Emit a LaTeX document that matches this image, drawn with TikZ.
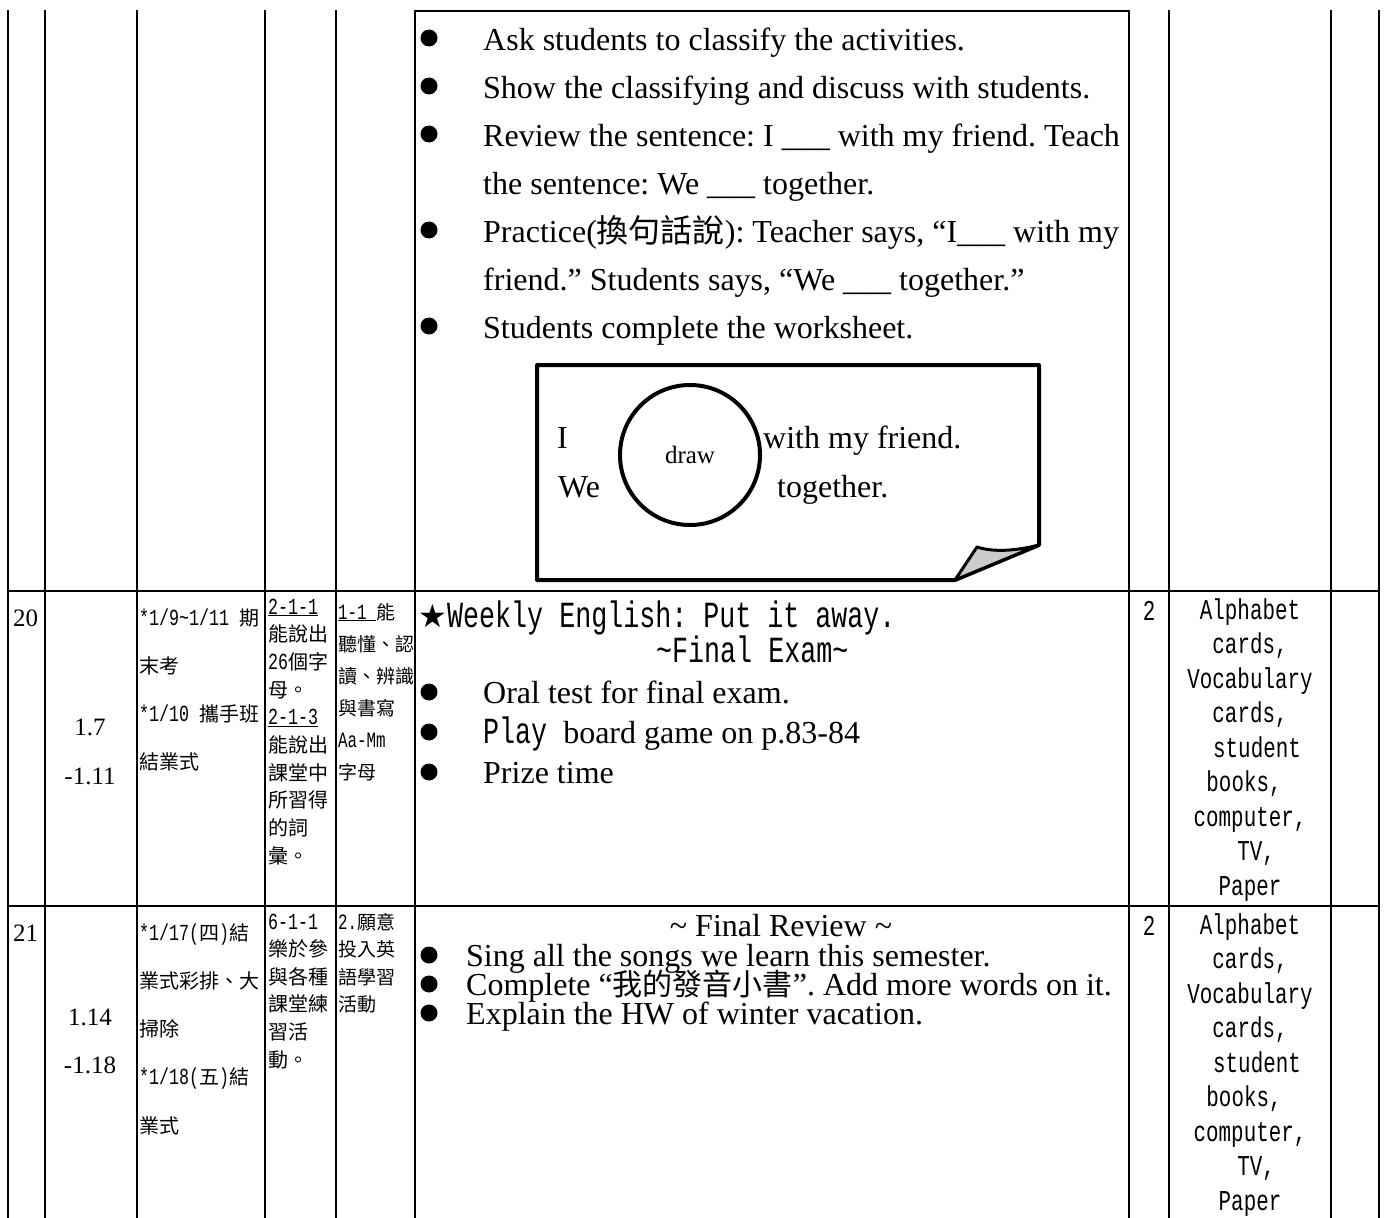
\documentclass[tikz,border=0pt]{standalone}
\usepackage{fontspec}
\setmainfont{Liberation Serif}
\newfontfamily\cjk{Noto Sans CJK TC}
\newfontfamily\halfmono[Scale=1.15,FakeStretch=0.725]{Liberation Mono}
\newfontfamily\symfont{DejaVu Sans}
\newcommand{\fsz}[1]{\fontsize{#1}{#1}\selectfont}
\newcommand{\zh}[1]{{\cjk #1}}
\newcommand{\hm}[1]{{\halfmono #1}}

\begin{document}
\frenchspacing
\begin{tikzpicture}
  [x=1pt,y=-1pt,
   tabline/.style={line width=2pt},
   txt/.style={anchor=base west,inner sep=0pt},
   ctr/.style={anchor=base,inner sep=0pt},
   bulletdot/.style={circle,fill=black,minimum size=17pt,inner sep=0pt}]
  \useasboundingbox (0,0) rectangle (1387,1218);

  % table
  \foreach \x in {8,45,137,265,336,1169,1331,1379}
    \draw[tabline] (\x,10) -- (\x,1218);
  \draw[tabline] (415,1218) -- (415,11) -- (1129,11) -- (1129,1218);
  \foreach \y in {591,906}
    \draw[tabline] (8,\y) -- (1379,\y);

  % previous week, activities
  \foreach \t [count=\i from 0] in {Ask students to classify the activities.,
      Show the classifying and discuss with students.,
      {Review the sentence: I \_\_\_ with my friend. Teach},
      {the sentence: We \_\_\_ together.},
      {Practice(\zh{換句話說}): Teacher says, “I\_\_\_ with my},
      {friend.” Students says, “We \_\_\_ together.”},
      Students complete the worksheet.}
    \node[txt,font=\fsz{32}] (top\i) at (483,50+48*\i) {\t};
  \foreach \y [count=\i] in {38,86,134,230,326}
    \node[bulletdot] (tb\i) at (429,\y) {};

  % worksheet
  \draw[line width=4pt,line join=round] (537,365) -- (1039,365) -- (1039,545)
    -- (955,580) -- (537,580) -- cycle;
  \filldraw[fill=black!20,line width=3pt,line join=round] (955,580) -- (977,547)
    .. controls (995,553) and (1020,550) .. (1039,545) -- cycle;
  \node[circle,draw,line width=4pt,minimum size=140pt,inner sep=0pt,font=\fsz{25}]
    (drawc) at (690,455) {draw};
  \node[txt,font=\fsz{32}] (wsI) at (557,448) {I};
  \node[txt,font=\fsz{32}] (wsWe) at (558,497) {We};
  \node[txt,font=\fsz{32}] (wsA) at (763,448) {with my friend.};
  \node[txt,font=\fsz{32}] (wsB) at (777,497) {together.};

  % week 20
  \node[txt,font=\fsz{25}] (wk20) at (13,626) {20};
  \node[ctr,font=\fsz{25}] (d20a) at (90,735) {1.7};
  \node[ctr,font=\fsz{25}] (d20b) at (90,784) {-1.11};
  \foreach \t [count=\i from 0] in {{\hm{*1/9\textasciitilde1/11 }\zh{期}},
      \zh{末考}, {\hm{*1/10 }\zh{攜手班}}, \zh{結業式}}
    \node[txt,font=\fsz{20}] (ev20-\i) at (139,625+48*\i) {\t};
  \foreach \t [count=\i from 0] in {\underline{\hm{2-1-1}}, \zh{能說出},
      {\hm{26}\zh{個字}}, \zh{母。}, \underline{\hm{2-1-3}}, \zh{能說出},
      \zh{課堂中}, \zh{所習得}, \zh{的詞}, \zh{彙。}}
    \node[txt,font=\fsz{20}] (ind20-\i) at (268,614+27.7*\i) {\t};
  \foreach \t [count=\i from 0] in {{\underline{\hm{1-1 }}\zh{能}}, \zh{聽懂、認},
      \zh{讀、辨識}, \zh{與書寫}, \hm{Aa-Mm}, \zh{字母}}
    \node[txt,font=\fsz{19}] (goal20-\i) at (338,619+32*\i) {\t};
  \node[txt,font=\symfont\fsz{32}] (star20) at (418,627) {★};
  \node[txt,font=\halfmono\fsz{32}] (eng20) at (447,627) {Weekly English: Put it away.};
  \node[txt,font=\halfmono\fsz{32}] (exam20) at (656,662) {\textasciitilde Final Exam\textasciitilde};
  \foreach \t [count=\i from 0] in {Oral test for final exam.,
      {\hm{Play }board game on p.83-84}, Prize time}
  {
    \node[bulletdot] (b20-\i) at (429,692+40*\i) {};
    \node[txt,font=\fsz{32}] (act20-\i) at (483,703+40*\i) {\t};
  }
  \node[ctr,font=\halfmono\fsz{25}] (hr20) at (1149,620) {2};
  \foreach \t/\dx [count=\i from 0] in {Alphabet/0, {cards,}/0, Vocabulary/0,
      {cards,}/0, student/7, {books,}/-6, {computer,}/0, {TV,}/6, Paper/0}
    \node[ctr,font=\halfmono\fsz{25}] (res20-\i) at (1250+\dx,619+34.5*\i) {\t};

  % week 21
  \node[txt,font=\fsz{25}] (wk21) at (13,941) {21};
  \node[ctr,font=\fsz{25}] (d21a) at (90,1025) {1.14};
  \node[ctr,font=\fsz{25}] (d21b) at (90,1073) {-1.18};
  \foreach \t [count=\i from 0] in {{\hm{*1/17(}\zh{四}\hm{)}\zh{結}},
      \zh{業式彩排、大}, \zh{掃除}, {\hm{*1/18(}\zh{五}\hm{)}\zh{結}}, \zh{業式}}
    \node[txt,font=\fsz{20}] (ev21-\i) at (139,940+48.3*\i) {\t};
  \foreach \t [count=\i from 0] in {\hm{6-1-1}, \zh{樂於參}, \zh{與各種},
      \zh{課堂練}, \zh{習活}, \zh{動。}}
    \node[txt,font=\fsz{20}] (ind21-\i) at (268,929+27.6*\i) {\t};
  \foreach \t [count=\i from 0] in {{\hm{2.}\zh{願意}}, \zh{投入英}, \zh{語學習}, \zh{活動}}
    \node[txt,font=\fsz{19}] (goal21-\i) at (338,929+27.6*\i) {\t};
  \node[ctr,font=\fsz{32}] (rev21) at (781,936) {\textasciitilde{} Final Review \textasciitilde};
  \foreach \t [count=\i from 0] in {Sing all the songs we learn this semester.,
      {Complete “{\cjk\fsz{30}我的發音小書}”. Add more words on it.},
      Explain the HW of winter vacation.}
  {
    \node[bulletdot] (b21-\i) at (429,955+29*\i) {};
    \node[txt,font=\fsz{32}] (act21-\i) at (466,966+29*\i) {\t};
  }
  \node[ctr,font=\halfmono\fsz{25}] (hr21) at (1149,935) {2};
  \foreach \t/\dx [count=\i from 0] in {Alphabet/0, {cards,}/0, Vocabulary/0,
      {cards,}/0, student/7, {books,}/-6, {computer,}/0, {TV,}/6, Paper/0}
    \node[ctr,font=\halfmono\fsz{25}] (res21-\i) at (1250+\dx,934+34.5*\i) {\t};
\end{tikzpicture}
\end{document}
